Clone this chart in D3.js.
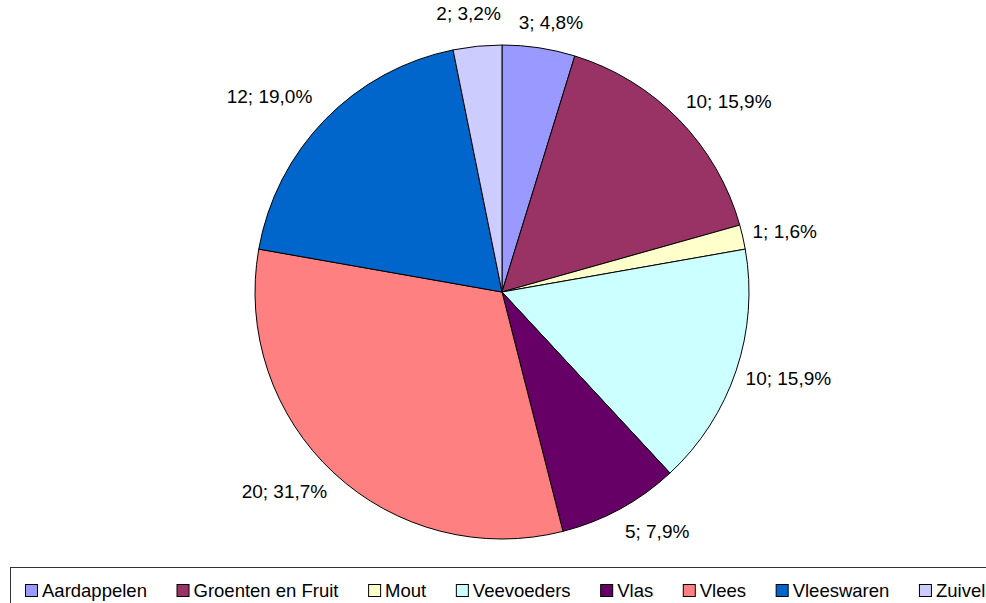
<!DOCTYPE html>
<html>
<head>
<meta charset="utf-8">
<script src="https://cdn.jsdelivr.net/npm/d3@7"></script>
<style>
  body { margin: 0; background: #ffffff; }
  text { font-family: "Liberation Sans", Arial, sans-serif; fill: #000; }
</style>
</head>
<body>
<div id="app"></div>
<script>
var width = 986,
  height = 603;

// data
var categories = ["Aardappelen", "Groenten en Fruit", "Mout", "Veevoeders", "Vlas", "Vlees", "Vleeswaren", "Zuivel"];
var values = [3, 10, 1, 10, 5, 20, 12, 2];
var colors = ["#9999FF", "#993366", "#FFFFCC", "#CCFFFF", "#660066", "#FF8080", "#0066CC", "#CCCCFF"];

var cx = 502,
  cy = 292,
  radius = 247;

let svg = d3
  .select("#app")
  .append("svg")
  .attr("width", width)
  .attr("height", height);

var total = d3.sum(values);
var fmt = d3.formatLocale({ decimal: ",", thousands: ".", grouping: [3], currency: ["", ""] }).format(".1f");

var pie = d3.pie().sort(null).value((d) => d);
var arcs = pie(values);
var arc = d3.arc().innerRadius(0).outerRadius(radius);

var g = svg.append("g").attr("transform", "translate(" + cx + "," + cy + ")");

g.selectAll("path")
  .data(arcs)
  .enter()
  .append("path")
  .attr("d", arc)
  .attr("fill", (d, i) => colors[i])
  .attr("stroke", "#000")
  .attr("stroke-width", 1);

// labels
var labelFont = 19;
var labels = g
  .selectAll("text.lbl")
  .data(arcs)
  .enter()
  .append("text")
  .attr("class", "lbl")
  .style("font-size", labelFont + "px")
  .attr("text-anchor", "middle")
  .text((d) => d.value + "; " + fmt((d.value / total) * 100) + "%");

labels.each(function (d) {
  var a = (d.startAngle + d.endAngle) / 2;
  var s = Math.sin(a),
    c = -Math.cos(a);
  var w = this.getComputedTextLength();
  var h = labelFont;
  // labels on the upper-left side sit a bit further out
  var gap = s < 0 && c < 0 ? 18 : 10;
  var px = (radius + gap) * s,
    py = (radius + gap) * c;
  var k = Math.max(-1, Math.min(1, s * 2.2));
  var bx = px + (w / 2) * k;
  var by = py + (h / 2 + 6) * c;
  d3.select(this)
    .attr("x", bx)
    .attr("y", by + h * 0.35);
});

// legend
var legend = svg.append("g");
legend
  .append("rect")
  .attr("x", 10.5)
  .attr("y", 567.5)
  .attr("width", 990)
  .attr("height", 60)
  .attr("fill", "#fff")
  .attr("stroke", "#333")
  .attr("stroke-width", 1);

var lx = 25;
categories.forEach(function (name, i) {
  var item = legend.append("g").attr("transform", "translate(" + lx + ",0)");
  item
    .append("rect")
    .attr("x", 0.5)
    .attr("y", 584.5)
    .attr("width", 12)
    .attr("height", 12)
    .attr("fill", colors[i])
    .attr("stroke", "#000");
  var t = item
    .append("text")
    .attr("x", 17)
    .attr("y", 597)
    .style("font-size", "18.5px")
    .text(name);
  lx += 17 + t.node().getComputedTextLength() + 29.6;
});
</script>
</body>
</html>
